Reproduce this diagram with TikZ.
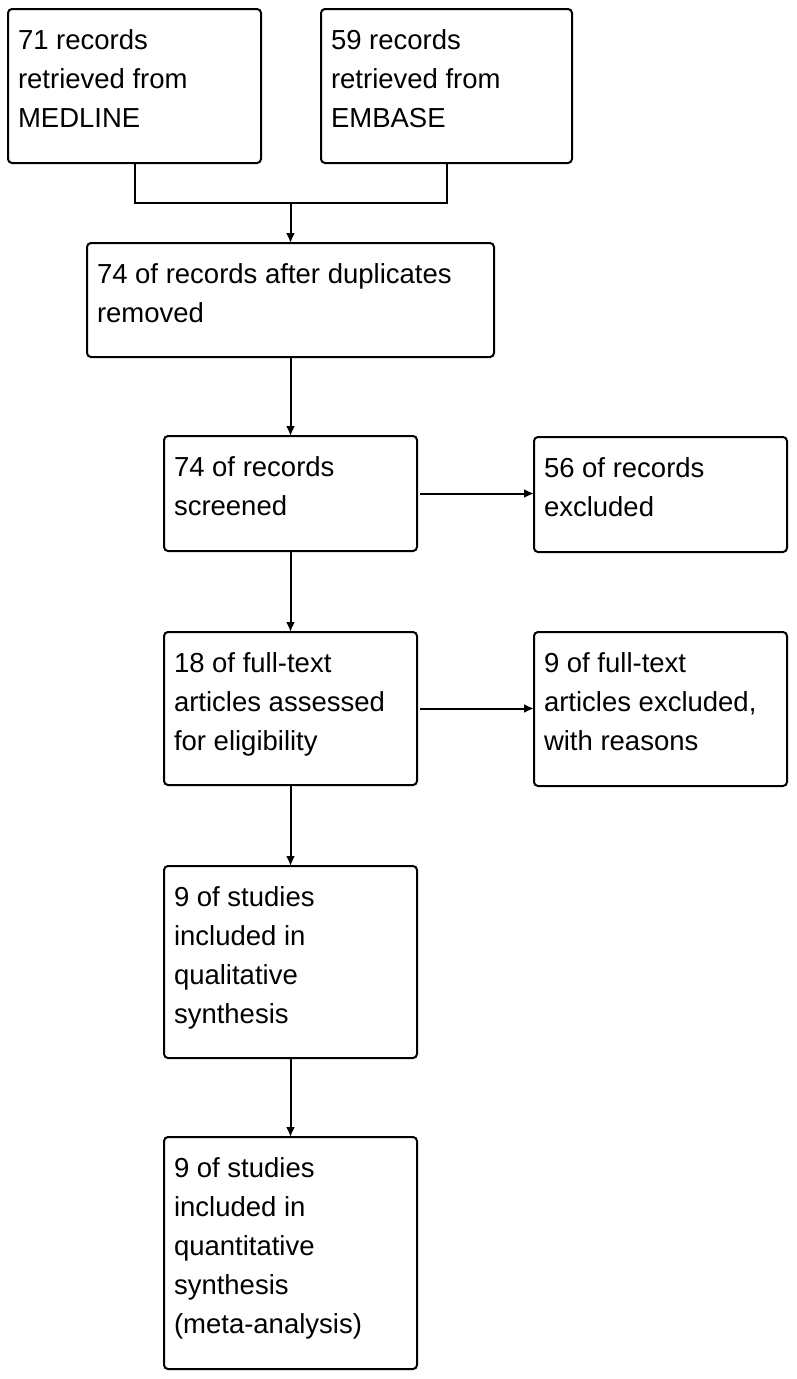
\documentclass[tikz,border=0pt]{standalone}
\usepackage{fontspec}
\setmainfont{Liberation Sans}
\usetikzlibrary{arrows.meta}
\begin{document}
\begin{tikzpicture}[x=1pt,y=-1pt,>={Latex[length=10pt,width=9pt]},line width=2pt,
		font=\fontsize{27.5}{39}\selectfont,
		box/.style={draw,rounded corners=4pt,anchor=north west,inner xsep=10pt,inner ysep=0pt,outer sep=0pt}]
		\def\cell#1#2#3{\parbox[t][#2pt][t]{\dimexpr#1pt-20pt\relax}{\raggedright\rule{0pt}{40pt}#3}}
		\useasboundingbox (0,0) rectangle (796,1379);
		% sources
		\node[box] (med) at (8,9) {\cell{253}{154}{71 records\\retrieved from\\MEDLINE}};
		\node[box] (emb) at (321,9) {\cell{251}{154}{59 records\\retrieved from\\EMBASE}};
		% main column
		\node[box] (dup) at (87,243) {\cell{407}{114}{74 of records after duplicates\\removed}};
		\node[box] (scr) at (164,436) {\cell{253}{115}{74 of records\\screened}};
		\node[box] (full) at (164,632) {\cell{253}{153}{18 of full-text\\articles assessed\\for eligibility}};
		\node[box] (qual) at (164,866) {\cell{253}{192}{9 of studies\\included in\\qualitative\\synthesis}};
		\node[box] (quant) at (164,1137) {\cell{253}{232}{9 of studies\\included in\\quantitative\\synthesis\\(meta-analysis)}};
		% exclusions
		\node[box] (exc) at (534,437) {\cell{253}{115}{56 of records\\excluded}};
		\node[box] (fexc) at (534,632) {\cell{253}{154}{9 of full-text\\articles excluded,\\with reasons}};
		\coordinate (join) at (dup.north |- 0,203);
		\draw (med.south) |- (join) -| (emb.south);
		\draw[->] (join) -- (dup.north);
		\draw[->] (dup) -- (scr);
		\draw[->] (scr) -- (full);
		\draw[->] (full) -- (qual);
		\draw[->] (qual) -- (quant);
		\draw[->,shorten <=3pt] (scr.east) -- (scr.east -| exc.west);
		\draw[->,shorten <=3pt] (full.east) -- (full.east -| fexc.west);
\end{tikzpicture}
\end{document}
